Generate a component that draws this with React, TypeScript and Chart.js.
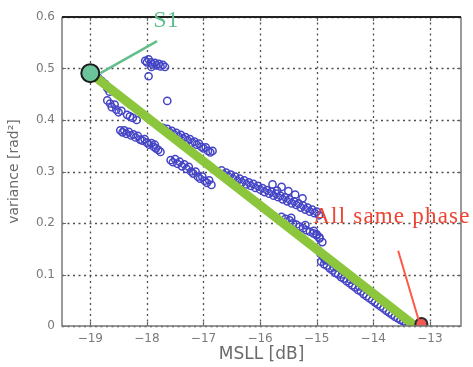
import { useEffect, useRef } from "react";
import { Chart, registerables } from "chart.js";

Chart.register(...registerables);

// Axis ranges and tick values
const xRange = [-19.5, -12.45];
const yRange = [0, 0.6];
const xTicks = [-19, -18, -17, -16, -15, -14, -13];
const yTicks = [0, 0.1, 0.2, 0.3, 0.4, 0.5, 0.6];

// Sampled phase configurations: sidelobe level vs. phase variance
const sampleMsll = [
  -18.03, -18.0, -17.97, -17.93, -17.9, -17.86, -17.83, -17.79, -17.76, -17.72, -17.68, -17.92, -17.97, -17.64,
  -18.86, -18.8, -18.74, -18.7, -18.66, -18.7, -18.65, -18.62, -18.57, -18.54, -18.5, -18.45, -18.35, -18.3, -18.25, -18.18,
  -18.47, -18.43, -18.4, -18.36, -18.32, -18.28, -18.24, -18.2, -18.16, -18.12, -18.08, -18.04, -18.0, -17.96, -17.92, -17.88, -17.84, -17.8, -17.76, -17.86,
  -17.58, -17.54, -17.5, -17.46, -17.42, -17.38, -17.34, -17.3, -17.26, -17.22, -17.18, -17.14, -17.1, -17.06, -17.02, -16.98, -16.94, -16.9, -16.86,
  -17.72, -17.68, -17.64, -17.6, -17.56, -17.52, -17.48, -17.44, -17.4, -17.36, -17.32, -17.28, -17.24, -17.2, -17.16, -17.12, -17.08, -17.04, -17.0, -16.96, -16.92, -16.88, -16.84,
  -16.76, -16.72, -16.68, -16.64, -16.6, -16.56, -16.52, -16.48, -16.44, -16.4, -16.36, -16.32, -16.28, -16.24, -16.2, -16.16, -16.12, -16.08, -16.04, -16.0, -15.96, -15.92, -15.88, -15.84, -15.8, -15.76, -15.72, -15.68, -15.64, -15.6, -15.56, -15.52, -15.48, -15.44, -15.4, -15.36, -15.32, -15.28, -15.24, -15.2, -15.16, -15.12, -15.08, -15.04, -15.0, -14.96,
  -15.78, -15.62, -15.5, -15.38, -15.25, -15.7,
  -15.62, -15.55, -15.48, -15.42, -15.36, -15.3, -15.24, -15.18, -15.12, -15.06, -15.0, -14.95, -15.45, -15.2,
  -15.05, -15.0, -14.95, -14.9, -14.98, -14.93, -14.88, -14.84,
  -14.92, -14.87, -14.82, -14.77, -14.72, -14.67, -14.62, -14.57, -14.52, -14.47, -14.42, -14.37, -14.32, -14.27, -14.22, -14.17, -14.12, -14.07, -14.02, -13.97, -13.92, -13.87, -13.82, -13.77, -13.72, -13.67, -13.62, -13.57, -13.52, -13.47, -13.42, -13.37, -13.32,
  -14.85, -14.7, -14.55, -14.4, -14.25,
];
const sampleVariance = [
  0.515, 0.512, 0.518, 0.512, 0.508, 0.511, 0.506, 0.509, 0.504, 0.507, 0.503, 0.503, 0.485, 0.437,
  0.482, 0.476, 0.47, 0.462, 0.455, 0.438, 0.432, 0.425, 0.43, 0.42, 0.415, 0.418, 0.41, 0.407, 0.404, 0.4,
  0.38, 0.376, 0.38, 0.373, 0.377, 0.37, 0.372, 0.366, 0.369, 0.362, 0.36, 0.363, 0.356, 0.352, 0.355, 0.348, 0.345, 0.342, 0.338, 0.352,
  0.322, 0.318, 0.324, 0.315, 0.319, 0.31, 0.314, 0.305, 0.309, 0.3, 0.296, 0.3, 0.29, 0.286, 0.29, 0.282, 0.278, 0.283, 0.274,
  0.385, 0.38, 0.383, 0.376, 0.379, 0.372, 0.375, 0.368, 0.371, 0.364, 0.367, 0.36, 0.363, 0.356, 0.358, 0.352, 0.354, 0.348, 0.345, 0.347, 0.34, 0.337, 0.34,
  0.3, 0.296, 0.302, 0.294, 0.298, 0.29, 0.294, 0.286, 0.29, 0.282, 0.286, 0.279, 0.283, 0.275, 0.279, 0.272, 0.276, 0.268, 0.272, 0.265, 0.268, 0.26, 0.264, 0.257, 0.261, 0.253, 0.257, 0.25, 0.253, 0.246, 0.25, 0.242, 0.246, 0.238, 0.242, 0.235, 0.238, 0.23, 0.234, 0.226, 0.23, 0.222, 0.226, 0.219, 0.222, 0.215,
  0.275, 0.27, 0.262, 0.255, 0.248, 0.263,
  0.212, 0.208, 0.205, 0.2, 0.197, 0.193, 0.19, 0.186, 0.183, 0.18, 0.176, 0.172, 0.21, 0.196,
  0.185, 0.178, 0.17, 0.163, 0.148, 0.14, 0.133, 0.128,
  0.125, 0.12, 0.117, 0.112, 0.108, 0.103, 0.1, 0.095, 0.092, 0.087, 0.083, 0.079, 0.075, 0.07, 0.067, 0.062, 0.058, 0.054, 0.05, 0.046, 0.042, 0.038, 0.034, 0.03, 0.026, 0.022, 0.018, 0.015, 0.012, 0.009, 0.006, 0.004, 0.002,
  0.128, 0.114, 0.1, 0.09, 0.077,
];

// Trade-off line from S1 down to the all-same-phase configuration
const trendMsll = [-19.0, -13.26];
const trendVariance = [0.491, 0.0];

// Highlighted configurations
const s1Msll = [-19.0];
const s1Variance = [0.491];
const samePhaseMsll = [-13.15];
const samePhaseVariance = [0.004];

const fmtX = (v: number) => (v < 0 ? "\u2212" + Math.abs(v) : String(v));
const fmtY = (v: number) => (v === 0 ? "0" : v.toFixed(1));

const toPoints = (xs: number[], ys: number[]) => xs.map((x, i) => ({ x, y: ys[i] }));

// Dotted grid drawn under the data
const dottedGrid = {
  id: "dottedGrid",
  beforeDatasetsDraw(chart: any) {
    const { ctx, chartArea: a, scales } = chart;
    ctx.save();
    ctx.strokeStyle = "#4f4f4f";
    ctx.lineWidth = 1.3;
    ctx.setLineDash([2, 3.5]);
    ctx.beginPath();
    xTicks.forEach((v) => {
      const px = Math.round(scales.x.getPixelForValue(v)) + 0.5;
      ctx.moveTo(px, a.top);
      ctx.lineTo(px, a.bottom);
    });
    yTicks.forEach((v) => {
      const py = Math.round(scales.y.getPixelForValue(v)) + 0.5;
      ctx.moveTo(a.left, py);
      ctx.lineTo(a.right, py);
    });
    ctx.stroke();
    ctx.restore();
  },
};

// Box, inward tick marks and call-out labels
const decorations = {
  id: "decorations",
  afterDraw(chart: any) {
    const { ctx, chartArea: a, scales } = chart;
    const sx = scales.x;
    const sy = scales.y;
    ctx.save();

    // inward ticks
    ctx.strokeStyle = "#666";
    ctx.lineWidth = 1.2;
    ctx.beginPath();
    xTicks.forEach((v) => {
      const px = Math.round(sx.getPixelForValue(v)) + 0.5;
      ctx.moveTo(px, a.bottom);
      ctx.lineTo(px, a.bottom - 4);
      ctx.moveTo(px, a.top);
      ctx.lineTo(px, a.top + 4);
    });
    yTicks.forEach((v) => {
      const py = Math.round(sy.getPixelForValue(v)) + 0.5;
      ctx.moveTo(a.left, py);
      ctx.lineTo(a.left + 4, py);
      ctx.moveTo(a.right, py);
      ctx.lineTo(a.right - 4, py);
    });
    ctx.stroke();

    // frame
    ctx.lineWidth = 1.5;
    ctx.strokeStyle = "#7a7a7a";
    ctx.beginPath();
    ctx.moveTo(a.left, a.top);
    ctx.lineTo(a.left, a.bottom);
    ctx.lineTo(a.right, a.bottom);
    ctx.lineTo(a.right, a.top);
    ctx.stroke();
    ctx.lineWidth = 2;
    ctx.strokeStyle = "#222";
    ctx.beginPath();
    ctx.moveTo(a.left, a.top);
    ctx.lineTo(a.right, a.top);
    ctx.stroke();

    const P = (x: number, y: number) => [sx.getPixelForValue(x), sy.getPixelForValue(y)];

    // S1 call-out
    ctx.strokeStyle = "#62bf8c";
    ctx.lineWidth = 2.5;
    ctx.beginPath();
    let [x0, y0] = P(-18.82, 0.491);
    let [x1, y1] = P(-17.82, 0.553);
    ctx.moveTo(x0, y0);
    ctx.lineTo(x1, y1);
    ctx.stroke();
    ctx.fillStyle = "#5cbf8c";
    ctx.font = '24px "Liberation Serif"';
    ctx.textAlign = "left";
    ctx.textBaseline = "alphabetic";
    let [tx, ty] = P(-17.887, 0.5806);
    ctx.fillText("S1", tx, ty);

    // all-same-phase call-out
    ctx.strokeStyle = "#ff5a48";
    ctx.lineWidth = 2;
    ctx.beginPath();
    [x0, y0] = P(-13.56, 0.146);
    [x1, y1] = P(-13.2, 0.012);
    ctx.moveTo(x0, y0);
    ctx.lineTo(x1, y1);
    ctx.stroke();
    ctx.fillStyle = "#ee4433";
    ctx.font = '23px "Liberation Serif"';
    (ctx as any).letterSpacing = "1.2px";
    [tx, ty] = P(-15.06, 0.2);
    ctx.fillText("All same phase", tx, ty);
    (ctx as any).letterSpacing = "0px";

    ctx.restore();
  },
};

export default function App() {
  const ref = useRef<HTMLCanvasElement | null>(null);

  useEffect(() => {
    if (!ref.current) return;
    const chart = new Chart(ref.current, {
      type: "scatter",
      data: {
        datasets: [
          {
            label: "S1",
            data: toPoints(s1Msll, s1Variance),
            pointRadius: 9,
            backgroundColor: "#6cc49a",
            borderColor: "#1b1b1b",
            borderWidth: 2,
            order: 0,
          },
          {
            label: "All same phase",
            data: toPoints(samePhaseMsll, samePhaseVariance),
            pointRadius: 6,
            backgroundColor: "#f25858",
            borderColor: "#2a2a2a",
            borderWidth: 2,
            order: 0,
          },
          {
            label: "trend",
            data: toPoints(trendMsll, trendVariance),
            showLine: true,
            borderColor: "#8cc63c",
            borderWidth: 9,
            pointRadius: 0,
            order: 1,
          },
          {
            label: "samples",
            data: toPoints(sampleMsll, sampleVariance),
            pointRadius: 3.6,
            borderColor: "#4444c6",
            backgroundColor: "rgba(0,0,0,0)",
            borderWidth: 1.5,
            order: 2,
          },
        ],
      },
      options: {
        responsive: false,
        animation: false,
        devicePixelRatio: 1,
        layout: { padding: { top: 17, right: 12, left: 0, bottom: 0 } },
        plugins: { legend: { display: false }, tooltip: { enabled: false } },
        scales: {
          x: {
            type: "linear",
            min: xRange[0],
            max: xRange[1],
            afterBuildTicks: (s: any) => {
              s.ticks = xTicks.map((value) => ({ value }));
            },
            afterFit: (s: any) => {
              s.height = 41;
            },
            grid: { display: false, drawTicks: false },
            border: { display: false },
            ticks: {
              color: "#7a7a7a",
              font: { family: "DejaVu Sans", size: 12 },
              padding: 6,
              callback: (v: any) => fmtX(Number(v)),
            },
            title: {
              display: true,
              text: "MSLL [dB]",
              color: "#6a6a6a",
              font: { family: "DejaVu Sans", size: 17 },
              padding: { top: 0, bottom: 2 },
            },
          },
          y: {
            type: "linear",
            min: yRange[0],
            max: yRange[1],
            afterBuildTicks: (s: any) => {
              s.ticks = yTicks.map((value) => ({ value }));
            },
            afterFit: (s: any) => {
              s.width = 62;
            },
            grid: { display: false, drawTicks: false },
            border: { display: false },
            ticks: {
              color: "#7a7a7a",
              font: { family: "DejaVu Sans", size: 12 },
              padding: 7,
              callback: (v: any) => fmtY(Number(v)),
            },
            title: {
              display: true,
              text: "variance [rad\u00b2]",
              color: "#6a6a6a",
              font: { family: "DejaVu Sans", size: 14 },
              padding: { top: 6, bottom: 0 },
            },
          },
        },
      },
      plugins: [dottedGrid, decorations],
    });
    return () => chart.destroy();
  }, []);

  return (
    <div style={{ position: "fixed", left: 0, top: 0, width: 473, height: 367, background: "#fff" }}>
      <canvas ref={ref} width={473} height={367} style={{ display: "block" }} />
    </div>
  );
}
